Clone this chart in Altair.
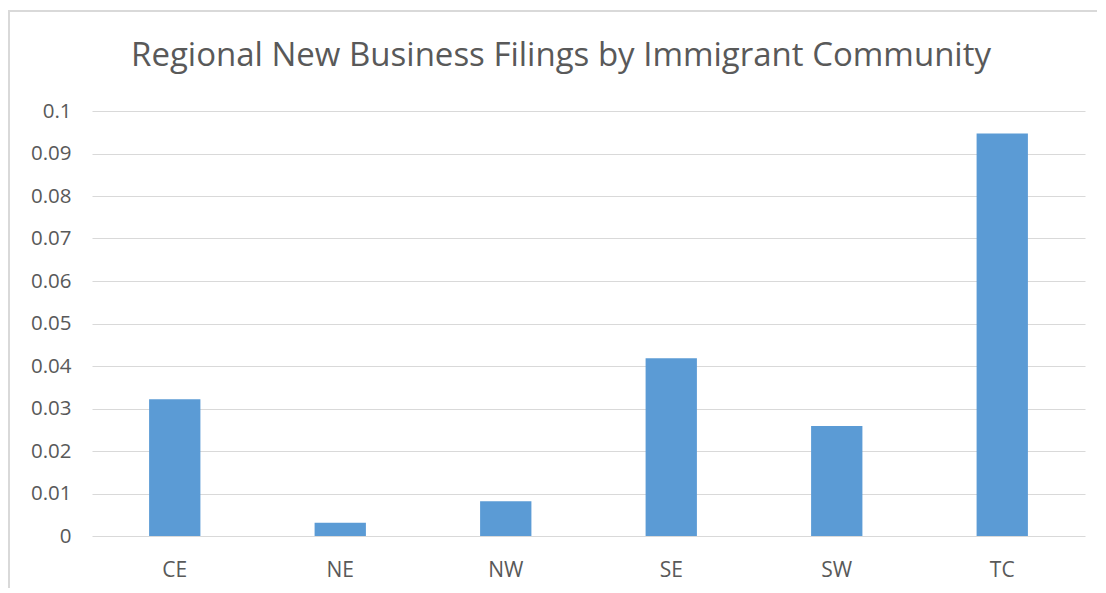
import altair as alt
import pandas as pd

regions = ["CE", "NE", "NW", "SE", "SW", "TC"]
values = [0.0322, 0.0031, 0.0082, 0.0418, 0.0259, 0.0947]
title_text = "Regional New Business Filings by Immigrant Community"
y_ticks = [0, 0.01, 0.02, 0.03, 0.04, 0.05, 0.06, 0.07, 0.08, 0.09, 0.1]

df = pd.DataFrame({"region": regions, "value": values})
title_df = pd.DataFrame({"t": [title_text]})

PLOT_W = 993
PLOT_H = 425
PAD_L = 84
PAD_T = 103

bars = alt.Chart(df).mark_bar(color="#5b9bd5").encode(
    x=alt.X("region:N", sort=regions, title=None,
            scale=alt.Scale(paddingInner=0.69, paddingOuter=0.345),
            axis=alt.Axis(labelAngle=0, labelFont="Open Sans", labelFontSize=21,
                          labelColor="#595959", labelPadding=23, domain=False,
                          ticks=False, grid=False)),
    y=alt.Y("value:Q", title=None,
            scale=alt.Scale(domain=[0, 0.1], nice=False),
            axis=alt.Axis(values=y_ticks, labelFont="Open Sans", labelFontSize=20.5,
                          labelColor="#595959", labelPadding=21, domain=False,
                          ticks=False, gridColor="#d9d9d9", gridWidth=1,
                          labelExpr="datum.value == 0 ? '0' : format(datum.value, '.2~f')")),
)

frame = alt.Chart(df).mark_rect(fill=None, stroke="#d9d9d9", strokeWidth=2).encode(
    x=alt.value(-PAD_L + 1), x2=alt.value(PLOT_W + 60),
    y=alt.value(-PAD_T + 3), y2=alt.value(PLOT_H + 100),
)

title = alt.Chart(title_df).mark_text(
    font="Open Sans", fontSize=33, color="#595959", baseline="middle", align="center"
).encode(
    text="t:N", x=alt.value(469), y=alt.value(-55),
)

chart = alt.layer(frame, bars, title).properties(
    width=PLOT_W, height=PLOT_H,
    autosize=alt.AutoSizeParams(type="none"),
    padding={"left": PAD_L, "top": PAD_T, "right": 12, "bottom": 52},
    background="white",
).configure_view(strokeWidth=0)

chart.save("out.html", embed_options={"renderer": "svg", "actions": False})
